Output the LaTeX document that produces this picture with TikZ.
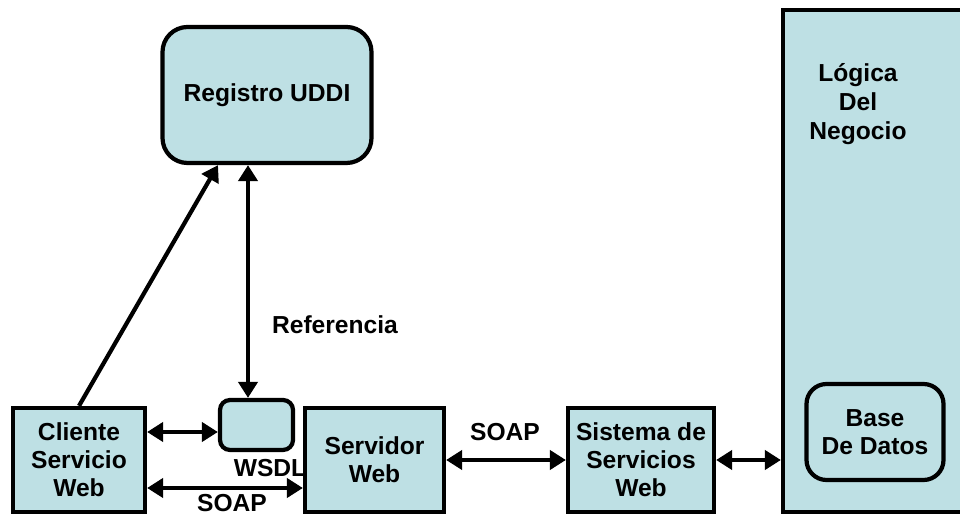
\documentclass[tikz,border=0pt]{standalone}
\usepackage{fontspec}
\setmainfont{Liberation Sans}
\usepackage{tikz}
\usetikzlibrary{calc,shapes,positioning}
\usetikzlibrary{arrows.meta}
\tikzset{>={Triangle[width=3.8mm,length=3.2mm]}}
\definecolor{azulcaja}{RGB}{190,224,228}

\begin{document}
\begin{tikzpicture}
        \tikzstyle{caja} = [line width=2.4pt, draw=black, fill=azulcaja, rectangle, inner sep=2pt, align=center, font=\fontsize{14}{16}\selectfont\bfseries]
        \tikzstyle{etiq} = [inner sep=1pt, align=center, font=\fontsize{14}{16}\selectfont\bfseries]
        \tikzstyle{flecha} = [<->, line width=2.4pt]

        \useasboundingbox (0,0) rectangle (19.2,10.28);

        % lado del servidor
        \node[caja, minimum width=3.74cm, minimum height=10.04cm] (logica) at (17.53,5.06) {};
        \node[etiq, font=\fontsize{14}{16.5}\selectfont\bfseries] (negocio) at (17.16,8.2) {Lógica\\Del\\Negocio};
        \node[caja, rounded corners=4mm, minimum width=2.74cm, minimum height=1.92cm] (bd) at (17.5,1.64) {Base\\De Datos};

        \node[caja, rounded corners=5mm, minimum width=4.18cm, minimum height=2.72cm] (uddi) at (5.34,8.38) {Registro UDDI};
        \node[caja, minimum width=2.64cm, minimum height=2.08cm] (clnt) at (1.58,1.08) {Cliente\\Servicio\\Web};
        \node[caja, rounded corners=2mm, minimum width=1.46cm, minimum height=1cm] (wsdl) at (5.13,1.78) {};
        \node[caja, minimum width=2.78cm, minimum height=2.08cm] (srv) at (7.49,1.08) {Servidor\\Web};
        \node[caja, minimum width=2.92cm, minimum height=2.08cm] (sist) at (12.82,1.08) {Sistema de\\Servicios\\Web};

        \node[etiq] (lwsdl) at (5.4,0.92) {WSDL};
        \node[etiq] (lref) at (6.7,3.78) {Referencia};
        \node[etiq] (lsoap1) at (4.64,0.22) {SOAP};
        \node[etiq] (lsoap2) at (10.1,1.64) {SOAP};

        % conexiones
        \coordinate (refx) at ($(wsdl.north)+(-0.17,0)$);
        \draw[->,line width=2.4pt] (clnt.north) -- ($(uddi.south)+(-0.98,0)$);
        \draw[flecha] (refx) -- (refx |- uddi.south);
        \draw[flecha] ([yshift=-0.14cm]clnt.east |- wsdl.west) -- ([yshift=-0.14cm]wsdl.west);
        \draw[flecha] ([yshift=-0.56cm]clnt.east) -- ([yshift=-0.56cm]srv.west);
        \draw[flecha] (srv.east) -- (sist.west);
        \draw[flecha] (sist.east) -- (sist.east -| logica.west);
      \end{tikzpicture}
\end{document}
